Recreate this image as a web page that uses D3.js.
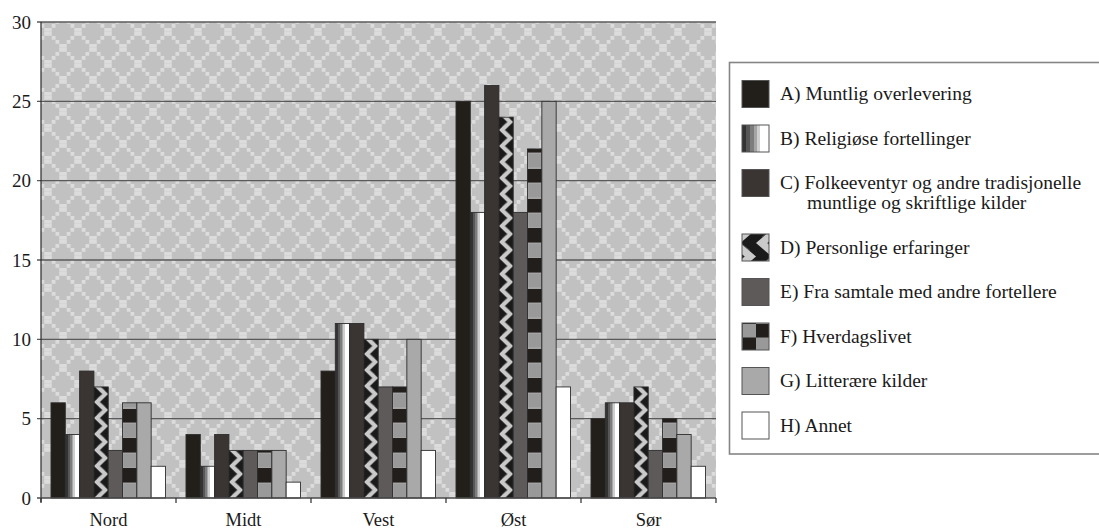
<!DOCTYPE html>
<html>
<head>
<meta charset="utf-8">
<script src="https://cdn.jsdelivr.net/npm/d3@7"></script>
<style>
  html, body { margin: 0; padding: 0; background: #ffffff; }
  svg { display: block; }
</style>
</head>
<body>
<svg id="chart" width="1099" height="530"></svg>
<script>
// ---- data ----
const categories = ["Nord", "Midt", "Vest", "Øst", "Sør"];
const seriesKeys = ["A", "B", "C", "D", "E", "F", "G", "H"];
const seriesLabels = [
  "A) Muntlig overlevering",
  "B) Religiøse fortellinger",
  "C) Folkeeventyr og andre tradisjonelle|muntlige og skriftlige kilder",
  "D) Personlige erfaringer",
  "E) Fra samtale med andre fortellere",
  "F) Hverdagslivet",
  "G) Litterære kilder",
  "H) Annet"
];
const valuesA = [6, 4, 8, 25, 5];
const valuesB = [4, 2, 11, 18, 6];
const valuesC = [8, 4, 11, 26, 6];
const valuesD = [7, 3, 10, 24, 7];
const valuesE = [3, 3, 7, 18, 3];
const valuesF = [6, 3, 7, 22, 5];
const valuesG = [6, 3, 10, 25, 4];
const valuesH = [2, 1, 3, 7, 2];
const yTicks = [0, 5, 10, 15, 20, 25, 30];

const seriesValues = [valuesA, valuesB, valuesC, valuesD, valuesE, valuesF, valuesG, valuesH];

// ---- layout ----
const FONT = "'Liberation Serif', 'DejaVu Serif', 'Times New Roman', serif";
const svg = d3.select("#chart").attr("font-family", FONT);
const plot = { left: 41, right: 716, top: 22, bottom: 498 };

const defs = svg.append("defs");

// background lattice pattern
const bg = defs.append("pattern").attr("id", "bgPat")
  .attr("patternUnits", "userSpaceOnUse")
  .attr("x", plot.left - 8).attr("y", plot.top - 6)
  .attr("width", 30).attr("height", 32);
bg.append("rect").attr("width", 30).attr("height", 32).attr("fill", "#c1c1c1");
for (let i = 0; i < 8; i++) {
  bg.append("rect").attr("x", i * 3.75).attr("y", i * 4).attr("width", 3.8).attr("height", 3.8).attr("fill", "#dcdcdc");
  bg.append("rect").attr("x", 30 - 3.8 - i * 3.75).attr("y", i * 4).attr("width", 3.8).attr("height", 3.8).attr("fill", "#dcdcdc");
}

// gradient for B
const gradB = defs.append("linearGradient").attr("id", "gradB")
  .attr("x1", 0).attr("x2", 1).attr("y1", 0).attr("y2", 0);
[[0, "#333"], [0.16, "#333"], [0.16, "#575757"], [0.3, "#575757"], [0.3, "#7d7d7d"], [0.44, "#7d7d7d"],
 [0.44, "#a5a5a5"], [0.57, "#a5a5a5"], [0.57, "#cfcfcf"], [0.68, "#cfcfcf"], [0.68, "#ffffff"], [1, "#ffffff"]]
  .forEach(s => gradB.append("stop").attr("offset", s[0]).attr("stop-color", s[1]));

// braid pattern for D (local bar coordinates)
function makeD(id, w, h) {
  const p = defs.append("pattern").attr("id", id)
    .attr("patternUnits", "userSpaceOnUse").attr("x", 0).attr("y", 0)
    .attr("width", w).attr("height", h);
  p.append("rect").attr("width", w).attr("height", h).attr("fill", "#cacaca");
  const dark = "#1a1a1a";
  const tip = w * 0.58;
  p.append("polygon").attr("points", `0,0 ${tip},${h / 2} 0,${h}`).attr("fill", dark);
  p.append("polygon").attr("points", `${w},${-h / 2} ${w - tip},0 ${w},${h / 2}`).attr("fill", dark);
  p.append("polygon").attr("points", `${w},${h / 2} ${w - tip},${h} ${w},${h * 1.5}`).attr("fill", dark);
  p.append("line").attr("x1", w - tip).attr("y1", 0).attr("x2", w * 0.78).attr("y2", h * 0.28)
    .attr("stroke", "#6a6a6a").attr("stroke-width", 0.7);
  p.append("line").attr("x1", tip).attr("y1", h / 2).attr("x2", w * 0.22).attr("y2", h * 0.78)
    .attr("stroke", "#6a6a6a").attr("stroke-width", 0.7);
  return p;
}

// checker stripes for F (local bar coordinates, anchored at bar bottom)
function makeF(id, w, cell) {
  const p = defs.append("pattern").attr("id", id)
    .attr("patternUnits", "userSpaceOnUse").attr("x", 0).attr("y", 0)
    .attr("width", w).attr("height", cell * 2);
  p.append("rect").attr("width", w).attr("height", cell).attr("fill", "#221e1b");
  p.append("rect").attr("y", cell).attr("width", w).attr("height", cell).attr("fill", "#999999")
    .attr("stroke", "#b3b3b3").attr("stroke-width", 0.8);
  return p;
}

const x0 = d3.scaleBand().domain(categories).range([plot.left, plot.right]).paddingInner(0).paddingOuter(0);
const bw = x0.bandwidth();
const x1 = d3.scaleBand().domain(seriesKeys).range([bw * 0.074, bw * 0.922]).padding(0);
const y = d3.scaleLinear().domain([0, 30]).range([plot.bottom, plot.top]);

const barW = x1.bandwidth();
makeD("patD", barW, 16);
makeF("patF", barW, 15);

// legend swatch patterns
makeD("patDL", 27, 27);
const fl = defs.append("pattern").attr("id", "patFL").attr("patternUnits", "userSpaceOnUse")
  .attr("width", 27).attr("height", 27);
fl.append("rect").attr("width", 27).attr("height", 27).attr("fill", "#999");
fl.append("rect").attr("width", 13.5).attr("height", 13.5).attr("fill", "#221e1b");
fl.append("rect").attr("x", 13.5).attr("y", 13.5).attr("width", 13.5).attr("height", 13.5).attr("fill", "#221e1b");

const fills = ["#221e1a", "url(#gradB)", "#3a3533", "url(#patD)", "#5e5a59", "url(#patF)", "#a9a9a9", "#ffffff"];
const legendFills = ["#221e1a", "url(#gradB)", "#3a3533", "url(#patDL)", "#5e5a59", "url(#patFL)", "#a9a9a9", "#ffffff"];

// plot background
svg.append("rect")
  .attr("x", plot.left).attr("y", plot.top)
  .attr("width", plot.right - plot.left).attr("height", plot.bottom - plot.top)
  .attr("fill", "url(#bgPat)");

// gridlines
svg.append("g").selectAll("line").data(yTicks.filter(t => t > 0)).join("line")
  .attr("x1", plot.left - 4).attr("x2", plot.right)
  .attr("y1", d => y(d)).attr("y2", d => y(d))
  .attr("stroke", "#5a5a5a").attr("stroke-width", 1.4);

// y tick labels
svg.append("g").selectAll("text").data(yTicks).join("text")
  .attr("x", 31).attr("y", d => y(d) + 6.5)
  .attr("text-anchor", "end").attr("font-size", 19).attr("fill", "#1a1a1a")
  .text(d => d);

// bars
const groups = svg.append("g").selectAll("g").data(categories).join("g")
  .attr("transform", d => `translate(${x0(d)},0)`);
groups.each(function (cat, ci) {
  const g = d3.select(this);
  seriesKeys.forEach((k, si) => {
    const v = seriesValues[si][ci];
    const h = y(0) - y(v);
    g.append("g").attr("transform", `translate(${x1(k)},${y(0)})`)
      .append("rect")
      .attr("x", 0).attr("y", -h).attr("width", barW).attr("height", h)
      .attr("fill", fills[si])
      .attr("stroke", "#2e2e2e").attr("stroke-width", 0.9);
  });
});

// axes lines
svg.append("line").attr("x1", plot.left).attr("x2", plot.left).attr("y1", plot.top).attr("y2", plot.bottom + 4)
  .attr("stroke", "#2a2a2a").attr("stroke-width", 1.2);
svg.append("line").attr("x1", plot.left - 4).attr("x2", plot.right).attr("y1", plot.bottom).attr("y2", plot.bottom)
  .attr("stroke", "#4a4a4a").attr("stroke-width", 1.6);
const boundaries = categories.map(c => x0(c)).concat([plot.right]);
svg.append("g").selectAll("line").data(boundaries).join("line")
  .attr("x1", d => d).attr("x2", d => d).attr("y1", plot.bottom).attr("y2", plot.bottom + 5)
  .attr("stroke", "#2a2a2a").attr("stroke-width", 1.2);

// category labels
svg.append("g").selectAll("text").data(categories).join("text")
  .attr("x", d => x0(d) + bw / 2).attr("y", 526)
  .attr("text-anchor", "middle").attr("font-size", 18.5).attr("fill", "#1a1a1a")
  .text(d => d);

// legend
const lg = svg.append("g");
lg.append("rect").attr("x", 729.5).attr("y", 62.5).attr("width", 420).attr("height", 391.5)
  .attr("fill", "#fff").attr("stroke", "#858585").attr("stroke-width", 1.6);
let yy = 94;
seriesLabels.forEach((lab, i) => {
  const lines = lab.split("|");
  const cy = yy;
  lg.append("rect").attr("x", 742).attr("y", cy - 13.5).attr("width", 27).attr("height", 27)
    .attr("fill", legendFills[i]).attr("stroke", "#555").attr("stroke-width", 1);
  const t = lg.append("text").attr("x", 780).attr("y", cy + 6).attr("font-size", 19.5).attr("fill", "#1a1a1a");
  lines.forEach((ln, li) => {
    t.append("tspan").attr("x", li === 0 ? 780 : 807).attr("dy", li === 0 ? 0 : 20).text(ln);
  });
  yy += 44.5 + (lines.length - 1) * 20;
});
</script>
</body>
</html>
